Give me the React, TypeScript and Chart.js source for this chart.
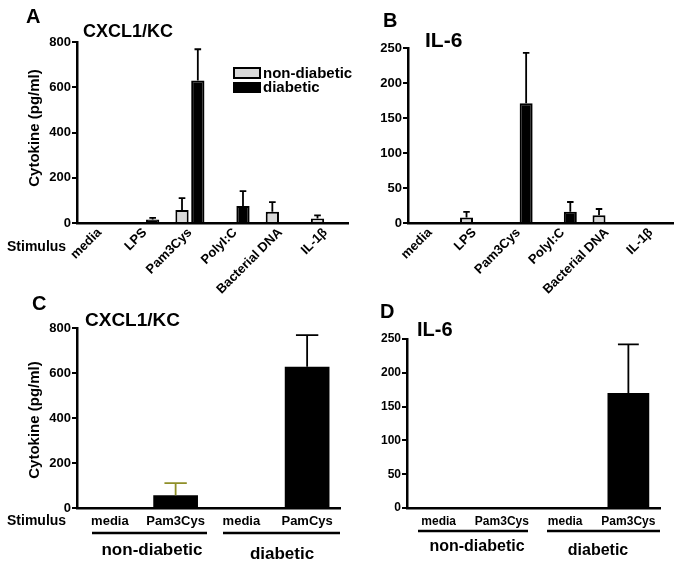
import React, { useEffect, useRef } from 'react';
import { Chart, registerables } from 'chart.js';

Chart.register(...registerables);

const FONT = "'Liberation Sans', Arial, Helvetica, sans-serif";
const W = 683;
const H = 563;

// ---- data ----
const stimuli = ['media', 'LPS', 'Pam3Cys', 'PolyI:C', 'Bacterial DNA', 'IL-1β'];
const seriesNames = ['non-diabetic', 'diabetic'];

const cxclNonDiabetic = [0, 0, 58, 0, 50, 20];
const cxclNonDiabeticErr = [0, 0, 52, 0, 42, 14];
const cxclDiabetic = [0, 15, 630, 75, 0, 0];
const cxclDiabeticErr = [0, 8, 138, 66, 0, 0];

const il6NonDiabetic = [0, 8, 0, 0, 11, 0];
const il6NonDiabeticErr = [0, 8, 0, 0, 9, 0];
const il6Diabetic = [0, 0, 171, 16, 0, 0];
const il6DiabeticErr = [0, 0, 72, 14, 0, 0];

const cxclPairLabels = ['media', 'Pam3Cys', 'media', 'PamCys'];
const cxclPair = [0, 57, 0, 628];
const cxclPairErr = [0, 54, 0, 140];
const cxclPairErrColors = ['#000000', '#8f8f28', '#000000', '#000000'];

const il6PairLabels = ['media', 'Pam3Cys', 'media', 'Pam3Cys'];
const il6Pair = [0, 0, 0, 170];
const il6PairErr = [0, 0, 0, 72];

const groups = ['non-diabetic', 'diabetic'];
const cxclMax = 800;
const cxclStep = 200;
const il6Max = 250;
const il6Step = 50;

const GREY = '#d9d9d9';

const errorBarPlugin = {
  id: 'errorBars',
  afterDatasetsDraw(chart: any) {
    const ctx = chart.ctx;
    const ys = chart.scales.y;
    chart.data.datasets.forEach((ds: any, di: number) => {
      const meta = chart.getDatasetMeta(di);
      const errs = ds.errors || [];
      meta.data.forEach((bar: any, i: number) => {
        const v = ds.data[i];
        const e = errs[i];
        if (!e) return;
        const x = bar.x;
        const top = ys.getPixelForValue(v);
        const end = ys.getPixelForValue(v + e);
        const half = bar.width / 4;
        ctx.save();
        ctx.strokeStyle = (ds.errorColors && ds.errorColors[i]) || '#000';
        ctx.lineWidth = 1.8;
        ctx.beginPath();
        ctx.moveTo(x, top);
        ctx.lineTo(x, end);
        ctx.moveTo(x - half, end);
        ctx.lineTo(x + half, end);
        ctx.stroke();
        ctx.restore();
      });
    });
  },
};

function txt(ctx: any, s: string, x: number, y: number, size: number, align = 'left', rot = 0) {
  ctx.save();
  ctx.font = `bold ${size}px ${FONT}`;
  ctx.fillStyle = '#000';
  ctx.textAlign = align;
  ctx.textBaseline = 'middle';
  ctx.translate(x, y);
  if (rot) ctx.rotate(rot);
  ctx.fillText(s, 0, 0);
  ctx.restore();
}

function hline(ctx: any, x1: number, x2: number, y: number) {
  ctx.save();
  ctx.strokeStyle = '#000';
  ctx.lineWidth = 2.5;
  ctx.beginPath();
  ctx.moveTo(x1, y);
  ctx.lineTo(x2, y);
  ctx.stroke();
  ctx.restore();
}

function decor(id: string, fn: (ctx: any, chart: any) => void) {
  return {
    id,
    afterDraw(chart: any) {
      fn(chart.ctx, chart);
    },
  };
}

function makeConfig(p: any) {
  const yW = 60;
  const xH = 80;
  return {
    type: 'bar',
    data: { labels: p.labels, datasets: p.datasets },
    options: {
      responsive: false,
      animation: false,
      events: [],
      layout: {
        padding: {
          left: p.left - yW,
          right: W - p.right,
          top: p.top,
          bottom: H - p.bottom - xH,
        },
      },
      plugins: { legend: { display: false }, title: { display: false }, tooltip: { enabled: false } },
      datasets: { bar: { barPercentage: p.barPct, categoryPercentage: p.catPct } },
      scales: {
        x: {
          afterFit: (s: any) => { s.height = xH; },
          grid: { display: false, drawTicks: false },
          border: { display: true, color: '#000', width: 2.5 },
          ticks: {
            autoSkip: false,
            maxRotation: p.rot,
            minRotation: p.rot,
            padding: p.xPad,
            color: '#000',
            font: { family: FONT, size: p.xFont, weight: 'bold' },
          },
        },
        y: {
          min: 0,
          max: p.max,
          afterFit: (s: any) => { s.width = yW; },
          grid: { drawOnChartArea: false, drawTicks: true, tickLength: 5, lineWidth: 2, color: '#000' },
          border: { display: true, color: '#000', width: 2.5 },
          ticks: {
            stepSize: p.step,
            padding: 1,
            color: '#000',
            font: { family: FONT, size: p.yFont, weight: 'bold' },
          },
        },
      },
    },
    plugins: [errorBarPlugin, decor('decor' + p.key, p.decorate)],
  };
}

const configA = () =>
  makeConfig({
    key: 'A', labels: stimuli, left: 77, right: 348, top: 42, bottom: 223,
    max: cxclMax, step: cxclStep, rot: 45, xPad: 2, xFont: 13, yFont: 13,
    barPct: 0.84, catPct: 0.7,
    datasets: [
      { label: seriesNames[0], data: cxclNonDiabetic, errors: cxclNonDiabeticErr, backgroundColor: GREY, borderColor: '#000', borderWidth: 2 },
      { label: seriesNames[1], data: cxclDiabetic, errors: cxclDiabeticErr, backgroundColor: '#000', borderColor: '#000', borderWidth: 2 },
    ],
    decorate: (ctx: any) => {
      txt(ctx, 'A', 26, 17, 20);
      txt(ctx, 'CXCL1/KC', 83, 32, 18);
      txt(ctx, 'Stimulus', 7, 247, 14);
      txt(ctx, 'Cytokine (pg/ml)', 35, 128, 15, 'center', -Math.PI / 2);
      // legend
      ctx.save();
      ctx.fillStyle = GREY;
      ctx.strokeStyle = '#000';
      ctx.lineWidth = 2;
      ctx.fillRect(234, 68, 26, 10);
      ctx.strokeRect(234, 68, 26, 10);
      ctx.fillStyle = '#000';
      ctx.fillRect(233, 82, 28, 11);
      ctx.restore();
      txt(ctx, seriesNames[0], 263, 74, 15);
      txt(ctx, seriesNames[1], 263, 88, 15);
    },
  });

const configB = () =>
  makeConfig({
    key: 'B', labels: stimuli, left: 408, right: 673, top: 48, bottom: 223,
    max: il6Max, step: il6Step, rot: 45, xPad: 2, xFont: 13, yFont: 13,
    barPct: 0.84, catPct: 0.7,
    datasets: [
      { label: seriesNames[0], data: il6NonDiabetic, errors: il6NonDiabeticErr, backgroundColor: GREY, borderColor: '#000', borderWidth: 2 },
      { label: seriesNames[1], data: il6Diabetic, errors: il6DiabeticErr, backgroundColor: '#000', borderColor: '#000', borderWidth: 2 },
    ],
    decorate: (ctx: any) => {
      txt(ctx, 'B', 383, 21, 20);
      txt(ctx, 'IL-6', 425, 41, 21);
    },
  });

const configC = () =>
  makeConfig({
    key: 'C', labels: cxclPairLabels, left: 77, right: 340, top: 328, bottom: 508,
    max: cxclMax, step: cxclStep, rot: 0, xPad: 6, xFont: 13, yFont: 13,
    barPct: 0.68, catPct: 1,
    datasets: [
      { label: 'Cytokine', data: cxclPair, errors: cxclPairErr, errorColors: cxclPairErrColors, backgroundColor: '#000', borderColor: '#000', borderWidth: 0 },
    ],
    decorate: (ctx: any) => {
      txt(ctx, 'C', 32, 304, 20);
      txt(ctx, 'CXCL1/KC', 85, 321, 19);
      txt(ctx, 'Stimulus', 7, 521, 14);
      txt(ctx, 'Cytokine (pg/ml)', 35, 420, 15, 'center', -Math.PI / 2);
      hline(ctx, 92, 207, 533);
      hline(ctx, 223, 340, 533);
      txt(ctx, groups[0], 152, 550, 17, 'center');
      txt(ctx, groups[1], 282, 554, 17, 'center');
    },
  });

const configD = () =>
  makeConfig({
    key: 'D', labels: il6PairLabels, left: 407, right: 660, top: 339, bottom: 508,
    max: il6Max, step: il6Step, rot: 0, xPad: 6, xFont: 12, yFont: 12,
    barPct: 0.66, catPct: 1,
    datasets: [
      { label: 'Cytokine', data: il6Pair, errors: il6PairErr, backgroundColor: '#000', borderColor: '#000', borderWidth: 0 },
    ],
    decorate: (ctx: any) => {
      txt(ctx, 'D', 380, 312, 20);
      txt(ctx, 'IL-6', 417, 330, 20);
      hline(ctx, 418, 528, 531);
      hline(ctx, 547, 660, 531);
      txt(ctx, groups[0], 477, 547, 16, 'center');
      txt(ctx, groups[1], 598, 551, 16, 'center');
    },
  });

function Panel({ make }: { make: () => any }) {
  const ref = useRef<HTMLCanvasElement | null>(null);
  useEffect(() => {
    const chart = new Chart(ref.current as HTMLCanvasElement, make());
    return () => chart.destroy();
  }, []);
  return (
    <canvas
      ref={ref}
      width={W}
      height={H}
      style={{ position: 'absolute', left: 0, top: 0, width: W, height: H }}
    />
  );
}

export default function App() {
  return (
    <div style={{ position: 'absolute', left: 0, top: 0, width: W, height: H, background: '#fff', overflow: 'hidden' }}>
      <Panel make={configA} />
      <Panel make={configB} />
      <Panel make={configC} />
      <Panel make={configD} />
    </div>
  );
}
